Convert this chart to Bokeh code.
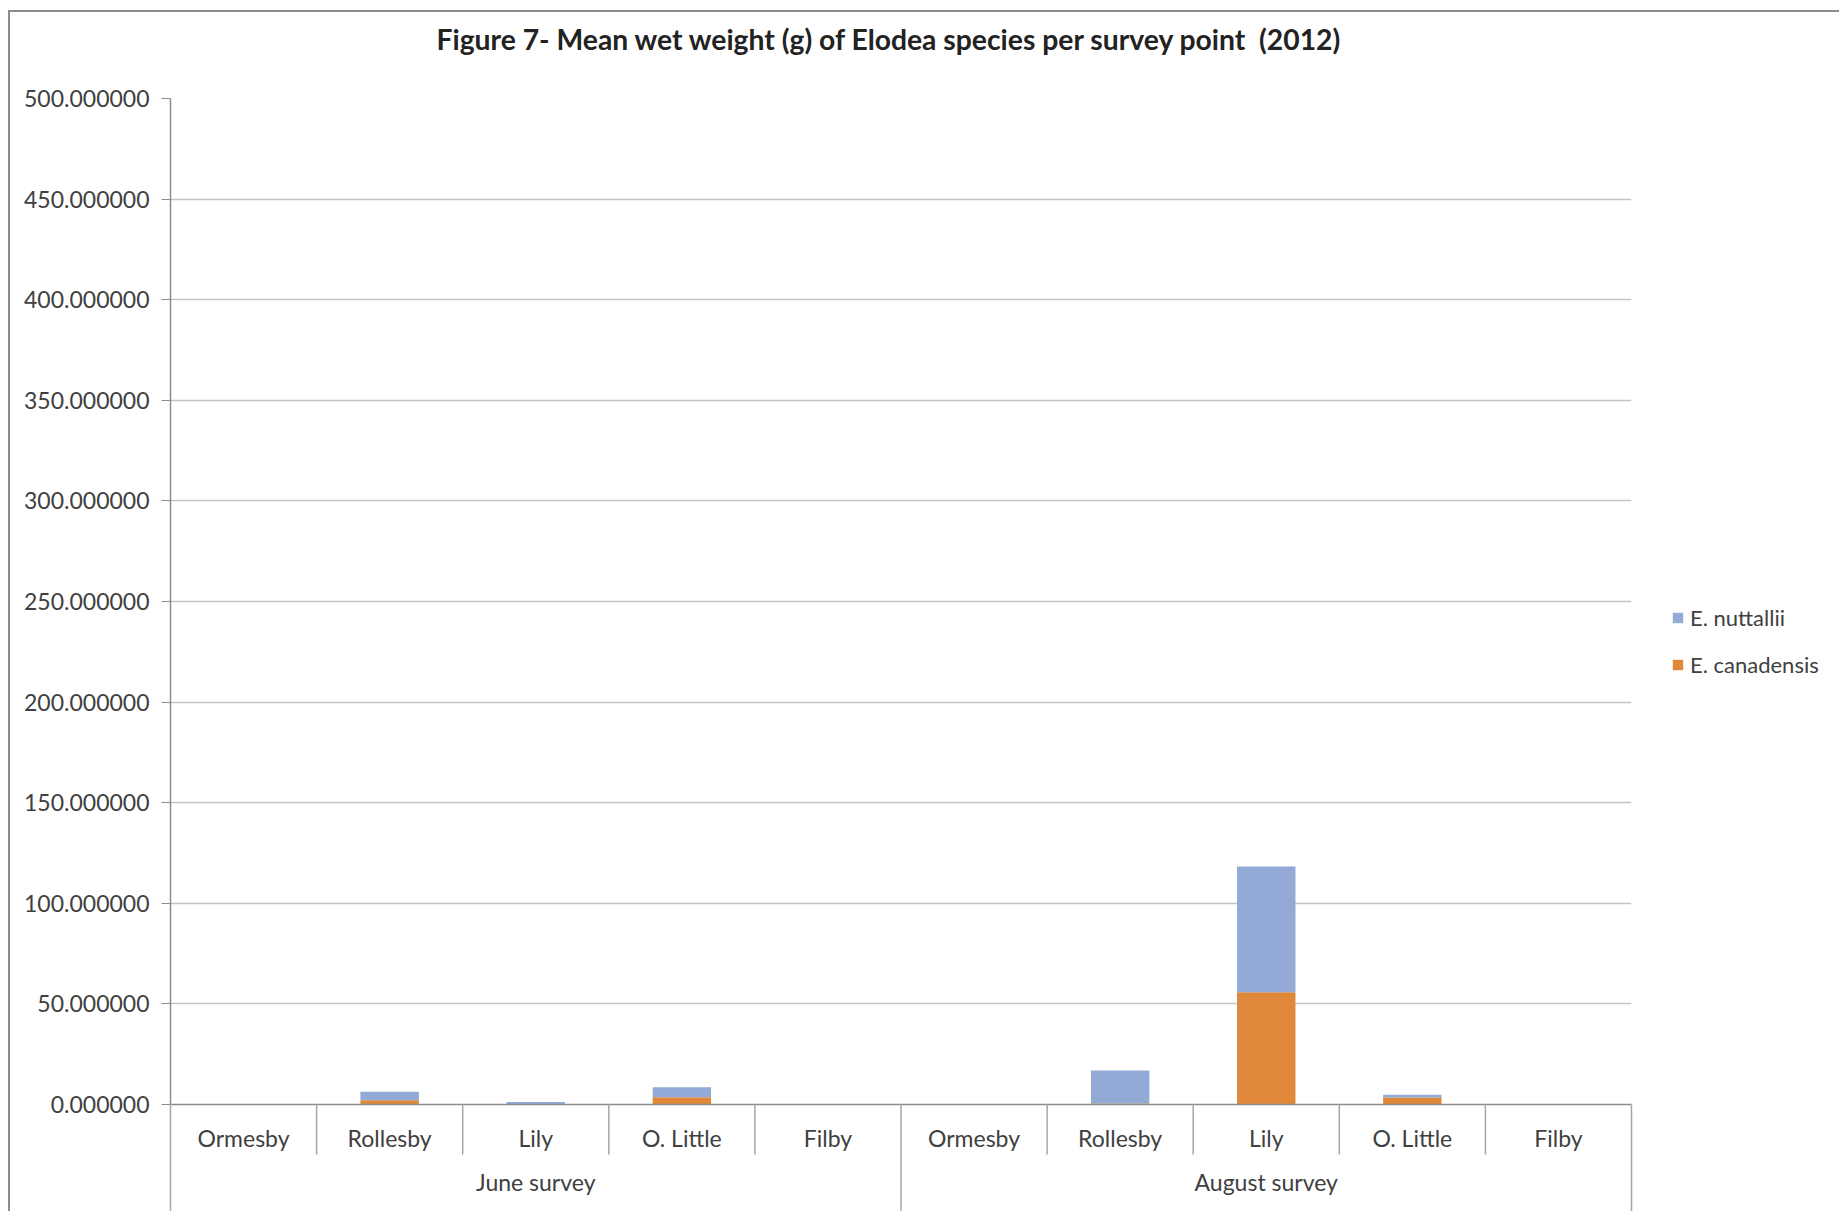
from bokeh.plotting import figure
from bokeh.models import (FactorRange, ColumnDataSource, FixedTicker, NumeralTickFormatter,
                          Legend, LegendItem, Range1d, Title)
from bokeh.embed import file_html
from bokeh.resources import INLINE

surveys = ["June survey", "August survey"]
sites = ["Ormesby", "Rollesby", "Lily", "O. Little", "Filby"]
canadensis = [0.0, 2.1, 0.0, 3.6, 0.0, 0.0, 0.5, 55.8, 3.5, 0.0]
nuttallii = [0.0, 4.2, 1.3, 5.0, 0.0, 0.0, 16.4, 62.5, 1.3, 0.0]
y_ticks = [0, 50, 100, 150, 200, 250, 300, 350, 400, 450, 500]

FONT = "Lato"
TXT = "#404040"
BLUE = "#94AAD6"
ORANGE = "#E0883A"
GRID = "#C4C4C4"
AXIS = "#8C8C8C"

factors = [(s, c) for s in surveys for c in sites]
src = ColumnDataSource(dict(x=factors, canadensis=canadensis, nuttallii=nuttallii))

p = figure(frame_width=1461, frame_height=1006, output_backend="svg", toolbar_location=None,
           x_range=FactorRange(*factors, group_padding=0, factor_padding=0, range_padding=0),
           y_range=Range1d(0, 500),
           min_border_left=160, min_border_right=200, min_border_top=86, min_border_bottom=108)
p.styles = {"margin-left": "8px", "margin-top": "10px",
            "border-left": "2px solid #8C8C8C", "border-top": "2px solid #8C8C8C"}
p.outline_line_color = None
p.background_fill_color = "white"
p.border_fill_color = "white"

p.add_layout(Title(text="Figure 7- Mean wet weight (g) of Elodea species per survey point \u00a0(2012)\n\u00a0",
                   text_font=FONT, text_font_size="28.3px", text_font_style="bold",
                   text_color="#222222", align="left", offset=266, standoff=13,
                   vertical_align="top"), "above")

r = p.vbar_stack(["canadensis", "nuttallii"], x="x", width=0.4, source=src,
                 color=[ORANGE, BLUE], line_color=None)

# separators between categories and groups
sep_x = []
sep_y1 = []
for f in factors:
    sep_x.append((f[0], f[1], -0.5))
    sep_y1.append(-55 if f[1] == sites[0] else -24.8)
sep_x.append((factors[-1][0], factors[-1][1], 0.5))
sep_y1.append(-54)
sep_src = ColumnDataSource(dict(x=sep_x, y0=[0] * len(sep_x), y1=sep_y1))
p.segment(x0="x", y0="y0", x1="x", y1="y1", source=sep_src, line_color="#A6A6A6",
          line_width=1.5, level="overlay")

# y axis
ya = p.yaxis[0]
ya.ticker = FixedTicker(ticks=y_ticks)
ya.formatter = NumeralTickFormatter(format="0.000000")
ya.major_label_text_font = FONT
ya.major_label_text_font_size = "23px"
ya.major_label_text_color = TXT
ya.axis_line_color = AXIS
ya.axis_line_width = 1.5
ya.major_tick_line_color = AXIS
ya.major_tick_in = 0
ya.major_tick_out = 9
ya.minor_tick_line_color = None
ya.major_label_standoff = 12

xa = p.xaxis[0]
xa.axis_line_color = AXIS
xa.axis_line_width = 1.5
xa.major_tick_line_color = None
xa.minor_tick_line_color = None
xa.major_label_text_font = FONT
xa.major_label_text_font_size = "23px"
xa.major_label_text_color = TXT
xa.major_label_standoff = 13
xa.group_text_font = FONT
xa.group_text_font_size = "23px"
xa.group_text_color = TXT
xa.group_text_font_style = "normal"
xa.group_label_orientation = "horizontal"
xa.separator_line_color = None

p.xgrid.grid_line_color = None
p.ygrid.grid_line_color = GRID
p.ygrid.grid_line_width = 1.5

legend = Legend(items=[LegendItem(label="E. nuttallii", renderers=[r[1]]),
                       LegendItem(label="E. canadensis", renderers=[r[0]])],
                location=(40, 426), orientation="vertical",
                label_text_font=FONT, label_text_font_size="22px", label_text_color=TXT,
                glyph_width=13, glyph_height=13, spacing=20, padding=0, margin=0,
                label_standoff=6, border_line_color=None, background_fill_alpha=0)
p.add_layout(legend, "right")

open("out.html", "w").write(file_html(p, INLINE))
